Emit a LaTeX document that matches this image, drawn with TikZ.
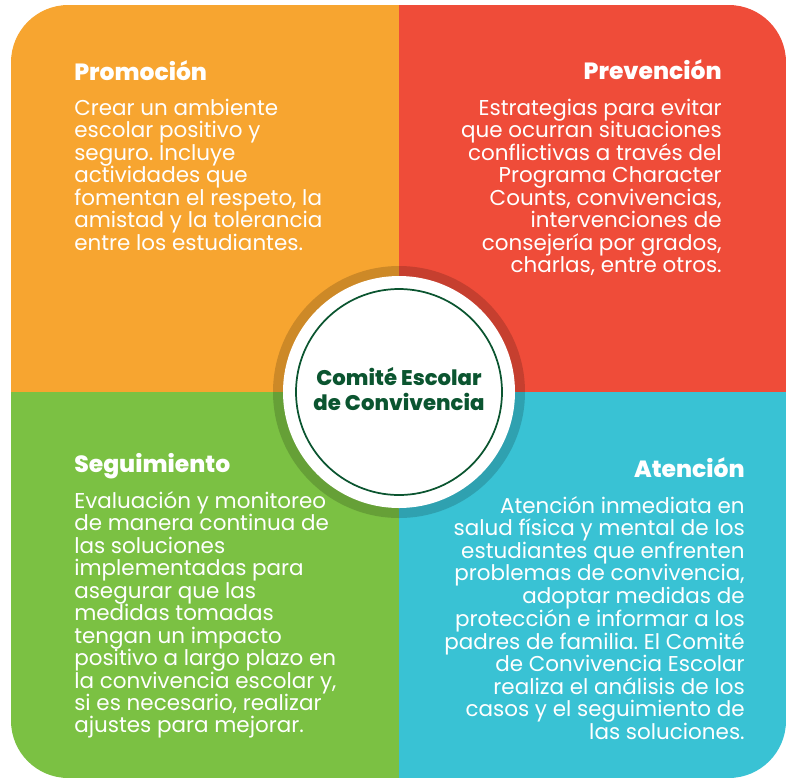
\documentclass[tikz,border=0pt]{standalone}
\usepackage{fontspec}
\setmainfont{Poppins}
\newfontfamily\popxb{Poppins ExtraBold}
\frenchspacing
\definecolor{qorange}{HTML}{F7A530}
\definecolor{qred}{HTML}{EF4C39}
\definecolor{qgreen}{HTML}{7BC143}
\definecolor{qblue}{HTML}{39C2D4}
\definecolor{dkgreen}{HTML}{0B5530}
\newcommand\myst{\rule{0pt}{18pt}}
\tikzset{
  ttl/.style={inner sep=0pt, text=white, font=\popxb\fontsize{17.6pt}{20pt}\selectfont},
  bodytxt/.style={inner sep=0pt, text=white, font=\fontsize{16.1pt}{16.85pt}\selectfont},
}
\begin{document}
\begin{tikzpicture}[x=0.75pt,y=-0.75pt]
\fill[white] (0,0) rectangle (793,779);
\begin{scope}
\clip[rounded corners=43pt] (11,5) rectangle (786,778);
\fill[qorange] (11,5) rectangle (399,392);
\fill[qred] (399,5) rectangle (786,392);
\fill[qgreen] (11,392) rectangle (399,778);
\fill[qblue] (399,392) rectangle (786,778);
\end{scope}
\fill[black, opacity=0.17] (399,392) circle[radius=94.5pt];
\node[circle, fill=white, inner sep=0pt, minimum size=174pt] (disc) at (399,392) {};
\node[circle, draw=dkgreen, line width=1.3pt, inner sep=0pt, minimum size=154.5pt] (ring) at (399,392) {};
\node[inner sep=0pt, anchor=north, align=center, text=dkgreen, font=\popxb\fontsize{15.9pt}{18.75pt}\selectfont] (center) at (399,361) {\myst Comité Escolar\\de Convivencia};

\node[ttl, anchor=base west] (t1) at (74,80) {Promoción};
\node[bodytxt, anchor=north west, align=left] (b1) at (74,91) {\myst Crear un ambiente\\escolar positivo y\\seguro. Incluye\\actividades que\\fomentan el respeto, la\\amistad y la tolerancia\\entre los estudiantes.};

\node[ttl, anchor=base east] (t2) at (722,79) {Prevención};
\node[bodytxt, anchor=north east, align=right] (b2) at (722,91) {\myst Estrategias para evitar\\que ocurran situaciones\\conflictivas a través del\\Programa Character\\Counts, convivencias,\\intervenciones de\\consejería por grados,\\charlas, entre otros.};

\node[ttl, anchor=base west] (t3) at (74,472) {Seguimiento};
\node[bodytxt, anchor=north west, align=left] (b3) at (74,484) {\myst Evaluación y monitoreo\\de manera continua de\\las soluciones\\implementadas para\\asegurar que las\\medidas tomadas\\tengan un impacto\\positivo a largo plazo en\\la convivencia escolar y,\\si es necesario, realizar\\ajustes para mejorar.};

\node[ttl, anchor=base east] (t4) at (745,477) {Atención};
\node[bodytxt, anchor=north east, align=right] (b4) at (745,489) {\myst Atención inmediata en\\salud física y mental de los\\estudiantes que enfrenten\\problemas de convivencia,\\adoptar medidas de\\protección e informar a los\\padres de familia. El Comité\\de Convivencia Escolar\\realiza el análisis de los\\casos y el seguimiento de\\las soluciones.};
\end{tikzpicture}
\end{document}
